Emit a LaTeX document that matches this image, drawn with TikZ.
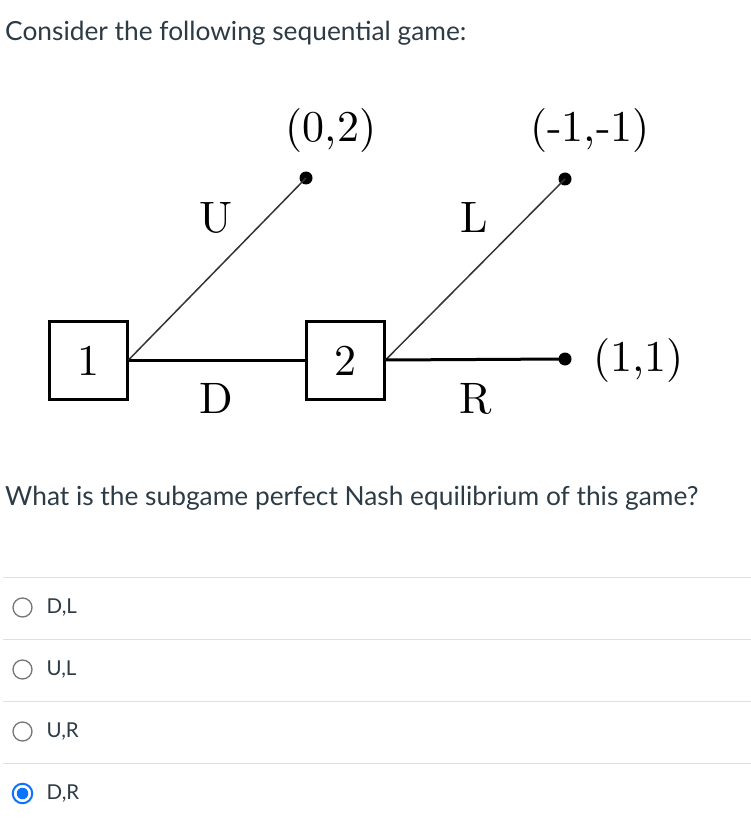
\documentclass[tikz,border=0pt]{standalone}
\usepackage{fontspec}
\setmainfont{Lato}
\newfontfamily\cmfont{lmroman10-regular}[Extension=.otf]
\definecolor{txt}{HTML}{2D3B45}
\definecolor{sep}{HTML}{E0E0E0}
\definecolor{radio}{HTML}{767676}
\definecolor{sel}{HTML}{0B74FF}
\begin{document}
\begin{tikzpicture}[x=1pt,y=-1pt,
  ui/.style={font=\fontsize{26.3}{30}\selectfont, text=txt, anchor=base west, inner sep=0pt},
  opt/.style={font=\fontsize{20.5}{24}\selectfont, text=txt, anchor=base west, inner sep=0pt},
  lab/.style={font=\cmfont\fontsize{44}{50}\selectfont, anchor=base, inner sep=0pt},
  player/.style={draw, line width=3pt, minimum width=78pt, minimum height=78pt, inner sep=0pt},
  term/.style={circle, fill=black, minimum size=13pt, inner sep=0pt},
  thin/.style={line width=1.5pt, draw=black!80},
  thick/.style={line width=3pt},
  sepline/.style={draw=sep, line width=1pt},
  rad/.style={circle, draw=radio, line width=1.3pt, minimum size=19pt, inner sep=0pt}
]
\useasboundingbox (0,0) rectangle (751,826);
\fill[white] (0,0) rectangle (751,826);

\node[ui] (title) at (5,41) {Consider the following sequential game:};

% tree
\node[player] (p1) at (88,360) {};
\node[lab] (n1) at (88,375) {1};
\node[player] (p2) at (345,360) {};
\node[lab] (n2) at (345,375) {2};
\node[term] (t1) at (306,178) {};
\node[term] (t2) at (565,179) {};
\node[term] (t3) at (565,359) {};

\draw[thin] (p1.east) -- (t1.center);
\draw[thick] (p1.east) -- (p2.west);
\draw[thin] (p2.east) -- (t2.center);
\draw[thick] (p2.east) -- (t3.center);

\node[lab] (lu) at (216,233) {U};
\node[lab] (ll) at (474,233) {L};
\node[lab] (ld) at (216,413) {D};
\node[lab] (lr) at (476,413) {R};
\node[lab] (pay1) at (331,142) {(0,2)};
\node[lab] (pay2) at (590,142) {(-1,-1)};
\node[lab, anchor=base west] (pay3) at (593,371) {(1,1)};

\node[ui] (question) at (5,505) {What is the subgame perfect Nash equilibrium of this game?};

% options
\draw[sepline] (3,577) -- (751,577);
\draw[sepline] (3,639) -- (751,639);
\draw[sepline] (3,701) -- (751,701);
\draw[sepline] (3,763) -- (751,763);

\node[rad] (r1) at (22.5,607.5) {};
\node[opt] (o1) at (46.5,613) {D,L};
\node[rad] (r2) at (22.5,669.5) {};
\node[opt] (o2) at (46.5,675) {U,L};
\node[rad] (r3) at (22.5,731.5) {};
\node[opt] (o3) at (46.5,737) {U,R};
\node[circle, draw=sel, line width=2pt, minimum size=19.5pt, inner sep=0pt] (r4) at (22.5,793.5) {};
\node[circle, fill=sel, minimum size=11.5pt, inner sep=0pt] (r4dot) at (22.5,793.5) {};
\node[opt] (o4) at (46.5,799) {D,R};
\end{tikzpicture}
\end{document}
